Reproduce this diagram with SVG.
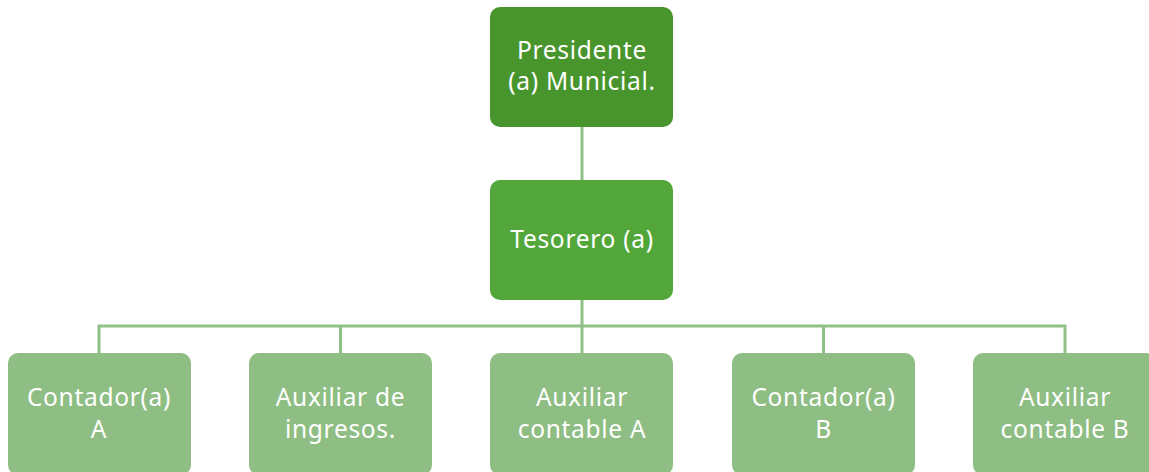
<svg xmlns="http://www.w3.org/2000/svg" width="1149" height="472" viewBox="0 0 1149 472">
<style>
.t{font-family:"Noto Sans","Open Sans",sans-serif;font-size:24.5px;letter-spacing:0.7px;fill:#ffffff;text-anchor:middle}
.c{stroke:#8fc186;stroke-width:3;fill:none}
.lv2{fill:#8ebe83}
</style>
<rect width="1149" height="472" fill="#ffffff"/>
<g id="connectors">
<line class="c" x1="582" y1="127" x2="582" y2="180"/>
<polyline class="c" points="582,300 582,326 99,326 99,353"/>
<line class="c" x1="340.5" y1="326" x2="340.5" y2="353"/>
<line class="c" x1="582" y1="326" x2="582" y2="353"/>
<polyline class="c" points="582,326 1065,326 1065,353"/>
<line class="c" x1="823.5" y1="326" x2="823.5" y2="353"/>
</g>
<g id="presidente">
<rect x="490" y="7" width="183" height="120" rx="10" fill="#48952d"/>
<text class="t" x="582" y="59">Presidente</text>
<text class="t" x="582" y="90">(a) Municial.</text>
</g>
<g id="tesorero">
<rect x="490" y="180" width="183" height="120" rx="10" fill="#53a73a"/>
<text class="t" x="582" y="248">Tesorero (a)</text>
</g>
<g id="contadorA">
<rect class="lv2" x="8" y="353" width="183" height="122" rx="10"/>
<text class="t" x="99" y="406">Contador(a)</text>
<text class="t" x="99" y="438">A</text>
</g>
<g id="auxIngresos">
<rect class="lv2" x="249" y="353" width="183" height="122" rx="10"/>
<text class="t" x="340.5" y="406">Auxiliar de</text>
<text class="t" x="340.5" y="438">ingresos.</text>
</g>
<g id="auxContableA">
<rect class="lv2" x="490" y="353" width="183" height="122" rx="10"/>
<text class="t" x="582" y="406">Auxiliar</text>
<text class="t" x="582" y="438">contable A</text>
</g>
<g id="contadorB">
<rect class="lv2" x="732" y="353" width="183" height="122" rx="10"/>
<text class="t" x="823.5" y="406">Contador(a)</text>
<text class="t" x="823.5" y="438">B</text>
</g>
<g id="auxContableB">
<rect class="lv2" x="973" y="353" width="183" height="122" rx="10"/>
<text class="t" x="1065" y="406">Auxiliar</text>
<text class="t" x="1065" y="438">contable B</text>
</g>
</svg>
